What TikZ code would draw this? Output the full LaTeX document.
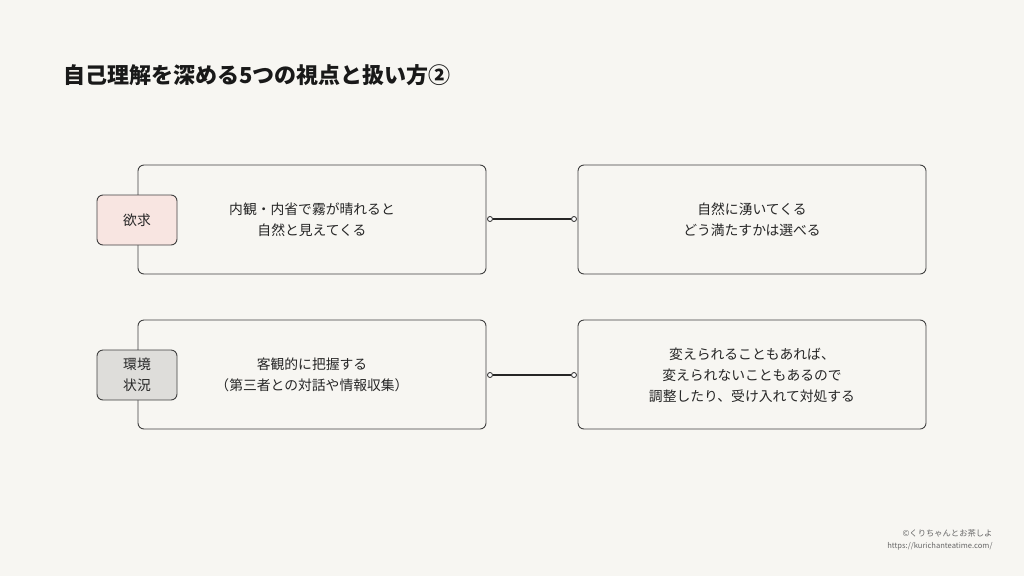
\documentclass[tikz,border=0pt]{standalone}
\usepackage{fontspec}
\newfontfamily\cjk{Noto Sans CJK JP}
\begin{document}
\begin{tikzpicture}[x=1pt,y=-1pt,
  box/.style={draw=black!75,line width=0.9pt,rounded corners=6pt,fill=bg},
  tag/.style={draw=black!75,line width=0.9pt,rounded corners=6pt},
  txt/.style={font=\cjk\fontsize{13.8}{21}\selectfont,align=center,text=black!85},
  dot/.style={circle,draw=black!85,fill=white,line width=0.8pt,inner sep=0,minimum size=5pt}]
\definecolor{bg}{HTML}{F7F6F2}
\fill[bg] (0,0) rectangle (1024,576);
\useasboundingbox (0,0) rectangle (1024,576);
\node[anchor=west,font=\cjk\bfseries\fontsize{22}{26}\selectfont,text=black!90] (title) at (60,75) {自己理解を深める5つの視点と扱い方②};
% row 1
\draw[box] (138,165) rectangle (486,274);
\node[txt] (l1) at (312,220) {内観・内省で霧が晴れると\\自然と見えてくる};
\draw[box] (578,165) rectangle (926,274);
\node[txt] (r1) at (752,220) {自然に湧いてくる\\どう満たすかは選べる};
\draw[tag,fill=red!7!bg] (97,195) rectangle (177,245);
\node[txt] (t1) at (137,220) {欲求};
\node[dot] (a1) at (490,219) {};
\node[dot] (b1) at (574,219) {};
\draw[line width=1.1pt,black!85] (a1) -- (b1);
% row 2
\draw[box] (138,320) rectangle (486,429);
\node[txt] (l2) at (312,375) {客観的に把握する\\（第三者との対話や情報収集）};
\draw[box] (578,320) rectangle (926,429);
\node[txt] (r2) at (752,375) {変えられることもあれば、\\変えられないこともあるので\\調整したり、受け入れて対処する};
\draw[tag,fill=black!10!bg] (97,350) rectangle (177,400);
\node[txt] (t2) at (137,375) {環境\\状況};
\node[dot] (a2) at (490,375) {};
\node[dot] (b2) at (574,375) {};
\draw[line width=1.1pt,black!85] (a2) -- (b2);
% footer
\node[anchor=east,font=\cjk\fontsize{8.3}{10}\selectfont,text=black!60] (f1) at (996,533) {©くりちゃんとお茶しよ};
\node[anchor=east,font=\cjk\fontsize{7.6}{10}\selectfont,text=black!60] (f2) at (996,546) {https://kurichanteatime.com/};
\end{tikzpicture}
\end{document}
